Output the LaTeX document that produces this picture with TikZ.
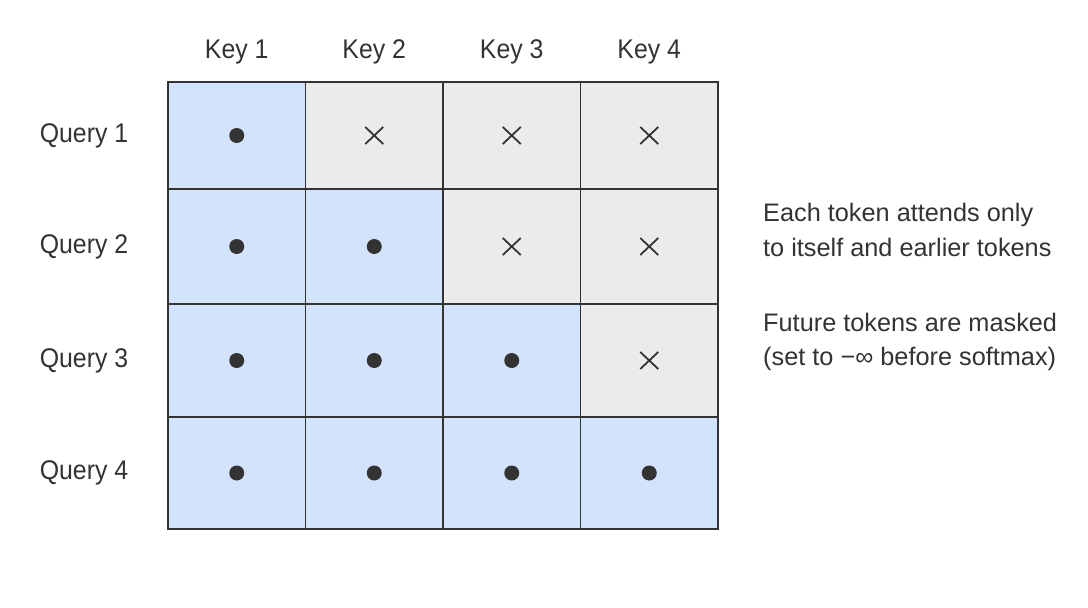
\documentclass[tikz,border=0pt]{standalone}
\usepackage{fontspec}
\setmainfont{Liberation Sans}
\newfontfamily\labelfont[FakeStretch=0.92]{Liberation Sans}
\usetikzlibrary{calc}
\definecolor{cellblue}{HTML}{D3E3FC}
\definecolor{cellgray}{HTML}{EBEBEB}
\definecolor{ink}{HTML}{333333}
\begin{document}
\begin{tikzpicture}[x=1pt,y=-1pt,
  cellbase/.style={inner sep=0pt,outer sep=0pt,minimum width=137.5pt,draw=none},
  cell0/.style={cellbase,fill=cellblue},
  cell1/.style={cellbase,fill=cellgray},
  gridline/.style={draw=ink,line width=1.6pt},
  lbl/.style={text=ink,font=\labelfont\fontsize{27}{32}\selectfont},
  note/.style={text=ink,font=\fontsize{25.3}{34.5}\selectfont,align=left,anchor=west,inner sep=0pt},
  dotmark/.style={fill=ink},
  crossmark/.style={draw=ink,line width=1.8pt}]
\useasboundingbox[fill=white] (0,0) rectangle (1088,608);
% cells
\foreach \r/\yc/\h in {1/135.5/107,2/246.5/115,3/360.5/113,4/473/112}{
  \foreach \c in {1,...,4}{
    \pgfmathsetmacro\xc{168+137.5*(\c-0.5)}
    \pgfmathtruncatemacro\m{\c>\r}
    \node[cell\m,minimum height=\h pt] (c\r\c) at (\xc,\yc) {};
  }
}
% grid
\draw[gridline] (c11.north west) rectangle (c44.south east);
\foreach \c in {1,2,3}{
  \draw[gridline] (c1\c.north east) -- (c4\c.south east);
}
\foreach \r in {1,2,3}{
  \draw[gridline] (c\r1.south west) -- (c\r4.south east);
}
% markers
\foreach \r in {1,...,4}{
  \foreach \c in {1,...,4}{
    \ifnum\c>\r
      \draw[crossmark,shift={(c\r\c.center)}] (-9,-8.5) -- (9,8.5) (-9,8.5) -- (9,-8.5);
    \else
      \fill[dotmark] (c\r\c.center) circle (7.5pt);
    \fi
  }
}
% labels
\foreach \c in {1,...,4}{
  \node[lbl] (k\c) at ($(c1\c.north)+(0,-30)$) {Key \c};
}
\foreach \r in {1,...,4}{
  \node[lbl,xshift=-84pt] (q\r) at (c\r1.west) {Query \r};
}
\node[note] (n1) at (763,230) {Each token attends only\\to itself and earlier tokens};
\node[note] (n2) at (763,342) {Future tokens are masked\\(set to −∞ before softmax)};
\end{tikzpicture}
\end{document}
